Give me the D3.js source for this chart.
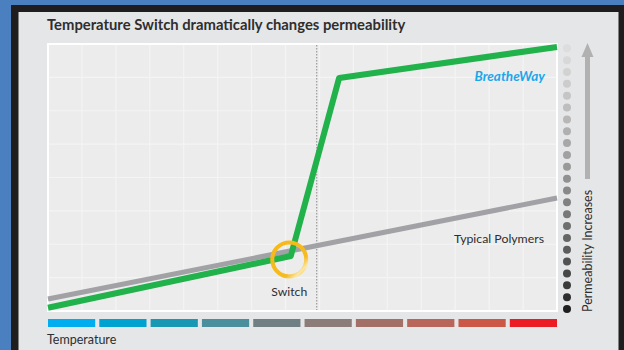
<!DOCTYPE html>
<html><head><meta charset="utf-8">
<script src="https://cdn.jsdelivr.net/npm/d3@7"></script>
<style>html,body{margin:0;padding:0;background:#4a80c0;}svg{display:block;}</style>
</head><body>
<svg id="c" width="624" height="350"></svg>
<script>
// ---- data ----
const title = "Temperature Switch dramatically changes permeability";
const breatheWayX = [0, 47.7, 57.2, 100];
const breatheWayY = [1.2, 20.6, 87.3, 98.9];
const polymerX = [0, 100];
const polymerY = [4.5, 42.3];
const switchX = 52.8;
const switchPoint = [47.4, 19.3];
const gridCols = 15, gridRows = 8;
const tempColors = ["#00aeef","#00a2d0","#1898b2","#4b8f9c","#6f7f84","#8b7c79","#a37068","#b8665a","#cb5747","#ec1c24"];
const dotShades = ["#dddddd","#d8d8d8","#d2d2d2","#cccccc","#c5c5c5","#bebebe","#b7b7b7","#b0b0b0","#a8a8a8","#a1a1a1","#999999","#919191","#898989","#818181","#787878","#6f6f6f","#666666","#5c5c5c","#525252","#474747","#3b3b3b","#2e2e2e","#1f1f1f"];
const labels = {breathe:"BreatheWay", typical:"Typical Polymers", sw:"Switch", temp:"Temperature", perm:"Permeability Increases"};

const svg = d3.select("#c");
// frame
svg.append("rect").attr("x",0).attr("y",0).attr("width",624).attr("height",350).attr("fill","#4a80c0");
svg.append("rect").attr("x",11).attr("y",5).attr("width",613).attr("height",345).attr("fill","#1f1d1d");
svg.append("rect").attr("x",18.5).attr("y",12).attr("width",600).attr("height",338).attr("fill","#e5e6e8");

const L=48, R=557, T=44, B=311;
const x = d3.scaleLinear().domain([0,100]).range([L,R]);
const y = d3.scaleLinear().domain([0,100]).range([B,T]);

svg.append("text").attr("x",47).attr("y",30).text(title)
  .attr("font-family","Lato").attr("font-weight",700).attr("font-size",14.8).attr("fill","#2e2e2e");

// plot bg
svg.append("rect").attr("x",L).attr("y",T).attr("width",R-L).attr("height",B-T).attr("fill","#ececec");
const gx = d3.scaleLinear().domain([0,gridCols]).range([L,R]);
const gy = d3.scaleLinear().domain([0,gridRows]).range([B,T]);
svg.append("g").selectAll("line").data(d3.range(1,gridCols)).join("line")
  .attr("x1",d=>gx(d)).attr("x2",d=>gx(d)).attr("y1",T).attr("y2",B)
  .attr("stroke","#f4f4f4").attr("stroke-width",1.2);
svg.append("g").selectAll("line").data(d3.range(1,gridRows)).join("line")
  .attr("y1",d=>gy(d)).attr("y2",d=>gy(d)).attr("x1",L).attr("x2",R)
  .attr("stroke","#f4f4f4").attr("stroke-width",1.2);
svg.append("rect").attr("x",L).attr("y",T).attr("width",R-L).attr("height",B-T)
  .attr("fill","none").attr("stroke","#ffffff").attr("stroke-width",2);

// switch dotted line
svg.append("line").attr("x1",x(switchX)).attr("x2",x(switchX)).attr("y1",T+1).attr("y2",B-1)
  .attr("stroke","#8a8a8a").attr("stroke-width",1).attr("stroke-dasharray","1.5,1.5");

const line = d3.line().x(d=>x(d[0])).y(d=>y(d[1]));
svg.append("path").datum(polymerX.map((v,i)=>[v,polymerY[i]])).attr("d",line)
  .attr("fill","none").attr("stroke","#a2a2a6").attr("stroke-width",5);
svg.append("path").datum(breatheWayX.map((v,i)=>[v,breatheWayY[i]])).attr("d",line)
  .attr("fill","none").attr("stroke","#22b24c").attr("stroke-width",6).attr("stroke-linejoin","round");

// ring
const defs = svg.append("defs");
const lg = defs.append("linearGradient").attr("id","rg").attr("x1","0").attr("y1","0").attr("x2","1").attr("y2","1");
lg.append("stop").attr("offset","0%").attr("stop-color","#f7b917");
lg.append("stop").attr("offset","70%").attr("stop-color","#f6bb1f");
lg.append("stop").attr("offset","85%").attr("stop-color","#fbe8a8");
lg.append("stop").attr("offset","100%").attr("stop-color","#f5b51a");
svg.append("circle").attr("cx",x(switchPoint[0])).attr("cy",y(switchPoint[1])).attr("r",17)
  .attr("fill","none").attr("stroke","url(#rg)").attr("stroke-width",4);

svg.append("text").attr("x",x(switchPoint[0])).attr("y",296).attr("text-anchor","middle").text(labels.sw)
  .attr("font-family","Lato").attr("font-size",12.2).attr("fill","#2e2e2e");
svg.append("text").attr("x",544).attr("y",243).attr("text-anchor","end").text(labels.typical)
  .attr("font-family","Lato").attr("font-size",12.3).attr("fill","#2e2e2e");
svg.append("text").attr("x",545).attr("y",81).attr("text-anchor","end").text(labels.breathe)
  .attr("font-family","Lato").attr("font-weight",700).attr("font-style","italic").attr("font-size",13.5).attr("fill","#1ba6ea");

// temperature bars
const band = d3.scaleBand().domain(d3.range(tempColors.length)).range([L,R]).paddingInner(0.08).paddingOuter(0);
svg.append("g").selectAll("rect").data(tempColors).join("rect")
  .attr("x",(d,i)=>band(i)).attr("width",band.bandwidth()).attr("y",319).attr("height",8).attr("fill",d=>d);
svg.append("text").attr("x",47).attr("y",344).text(labels.temp)
  .attr("font-family","Lato").attr("font-size",12.5).attr("fill","#2e2e2e");

// permeability dots
const dy = d3.scalePoint().domain(d3.range(dotShades.length)).range([48.3,309]);
svg.append("g").selectAll("circle").data(dotShades).join("circle")
  .attr("cx",567).attr("cy",(d,i)=>dy(i)).attr("r",4).attr("fill",d=>d);

// arrow
svg.append("rect").attr("x",585).attr("y",52).attr("width",5).attr("height",127).attr("fill","#b1b1b1");
svg.append("path").attr("d","M587.5,43 L593.5,57 L581.5,57 Z").attr("fill","#b1b1b1");
svg.append("text").attr("transform","translate(591.5,312) rotate(-90)").text(labels.perm)
  .attr("font-family","Lato").attr("font-size",12.5).attr("fill","#2e2e2e");
</script>
</body></html>
